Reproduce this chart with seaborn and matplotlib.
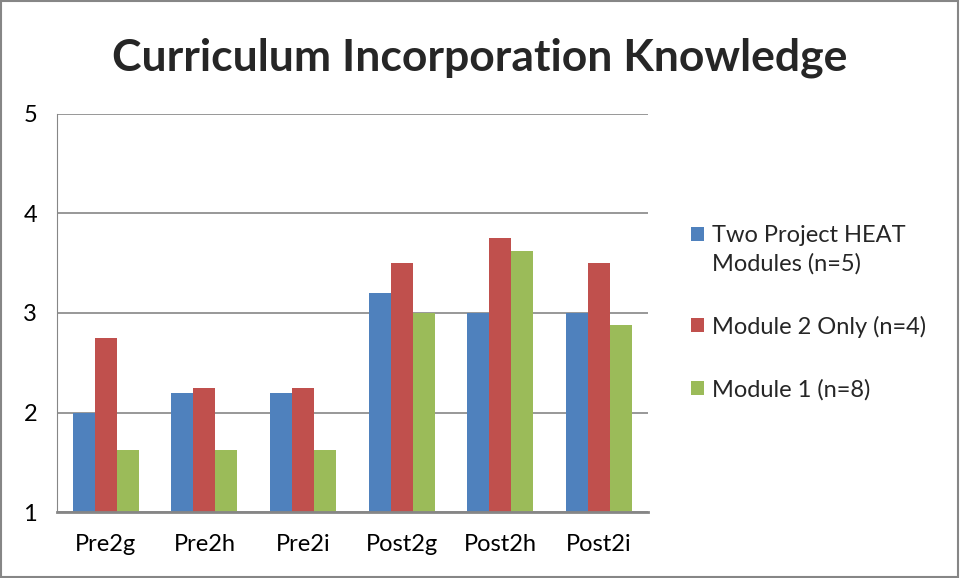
import pandas as pd
import matplotlib.pyplot as plt
import seaborn as sns
from matplotlib.patches import Rectangle

# data
categories = ['Pre2g', 'Pre2h', 'Pre2i', 'Post2g', 'Post2h', 'Post2i']
groups = ['Two Project HEAT\nModules (n=5)', 'Module 2 Only (n=4)', 'Module 1 (n=8)']
two_modules = [2.0, 2.2, 2.2, 3.2, 3.0, 3.0]
module2_only = [2.75, 2.25, 2.25, 3.5, 3.75, 3.5]
module1 = [1.625, 1.625, 1.625, 3.0, 3.625, 2.875]
colors = ['#4F81BD', '#C0504D', '#9BBB59']

df = pd.DataFrame({
    'item': categories * 3,
    'group': [groups[0]] * 6 + [groups[1]] * 6 + [groups[2]] * 6,
    'score': two_modules + module2_only + module1,
})

sns.set_style('white')
plt.rcParams['font.family'] = ['Lato', 'DejaVu Sans']

fig = plt.figure(figsize=(9.6, 5.78), dpi=100)
ax = fig.add_axes([0.059, 0.114, 0.616, 0.689])

sns.barplot(data=df, x='item', y='score', hue='group', palette=colors,
            width=0.67, ax=ax, saturation=1, edgecolor='none')

ax.set_ylim(1, 5)
ax.set_yticks([1, 2, 3, 4, 5])
ax.yaxis.grid(True, color='#868686', linewidth=1.2)
ax.set_axisbelow(True)
ax.set_xlabel('')
ax.set_ylabel('')
for s in ['top', 'right']:
    ax.spines[s].set_visible(False)
ax.spines['left'].set_color('#868686')
ax.spines['bottom'].set_color('#868686')
ax.spines['bottom'].set_linewidth(2)
ax.tick_params(axis='both', length=0, labelsize=17, colors='black')
ax.tick_params(axis='y', pad=14)
ax.tick_params(axis='x', pad=16)

leg = ax.legend(loc='upper left', bbox_to_anchor=(1.036, 0.775), frameon=False,
                fontsize=17, handlelength=0.55, handleheight=0.55,
                handletextpad=0.35, labelspacing=1.75)
for t in leg.get_texts():
    t.set_linespacing(1.4)
# Excel puts the key square next to the first line of a wrapped label
h = leg.legend_handles[0]
h.set_y(h.get_y() + 11)

fig.text(0.5, 0.9, 'Curriculum Incorporation Knowledge', fontsize=32,
         fontweight='bold', ha='center', va='center')

fig.patches.append(Rectangle((0.001, 0.001), 0.997, 0.997, transform=fig.transFigure,
                             fill=False, edgecolor='#868686', linewidth=1.5))

fig.savefig('out.png', dpi=100)
